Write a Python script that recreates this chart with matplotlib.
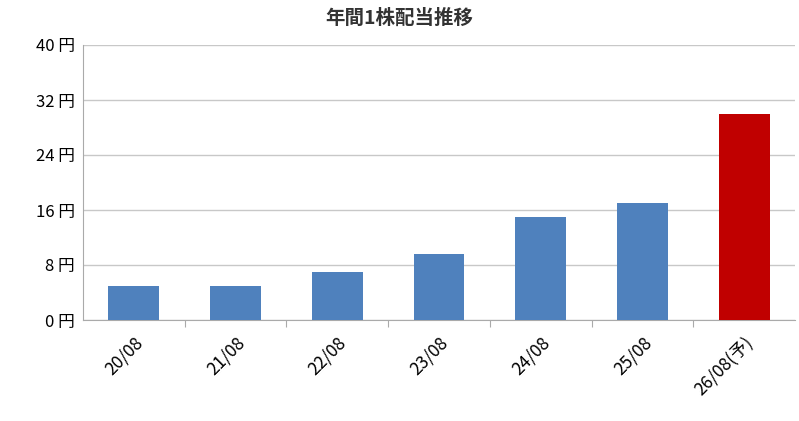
import matplotlib
matplotlib.use("Agg")
import matplotlib.pyplot as plt

plt.rcParams['font.family'] = ['Noto Sans CJK JP', 'DejaVu Sans']

categories = ["20/08", "21/08", "22/08", "23/08", "24/08", "25/08", "26/08(予)"]
values = [5, 5, 7, 9.6, 15, 17, 30]
colors = ["#4f81bd"] * 6 + ["#c00000"]
yticks = [0, 8, 16, 24, 32, 40]

fig = plt.figure(figsize=(7.99, 4.21), dpi=100)
ax = fig.add_axes([83/799, 1-320/421, 712/799, 275/421])
x = range(len(categories))
ax.bar(x, values, width=0.5, color=colors, zorder=3)
ax.set_xlim(-0.5, len(categories) - 0.5)
ax.set_ylim(0, 40)
ax.set_yticks(yticks)
ax.set_yticklabels([f"{v} 円" for v in yticks], fontsize=12)
ax.yaxis.grid(True, color="#c8c8c8", linewidth=1, zorder=0)
ax.set_xticks([i + 0.5 for i in range(len(categories) - 1)], minor=False)
ax.set_xticklabels([])
ax.set_xticks(list(x), minor=True)
ax.set_xticklabels(categories, minor=True, rotation=45, ha="right", rotation_mode="anchor", fontsize=12.5)
ax.tick_params(axis="x", which="major", length=5, color="#aaaaaa")
ax.tick_params(axis="x", which="minor", length=0, pad=10)
ax.tick_params(axis="y", length=0, pad=6)
for s in ["top", "right"]:
    ax.spines[s].set_visible(False)
ax.spines["left"].set_color("#aaaaaa")
ax.spines["bottom"].set_color("#aaaaaa")
fig.text(0.5, 1-18/421, "年間1株配当推移", ha="center", va="center", fontsize=14, fontweight="bold", color="#333333")
fig.savefig("out.png", dpi=100)
